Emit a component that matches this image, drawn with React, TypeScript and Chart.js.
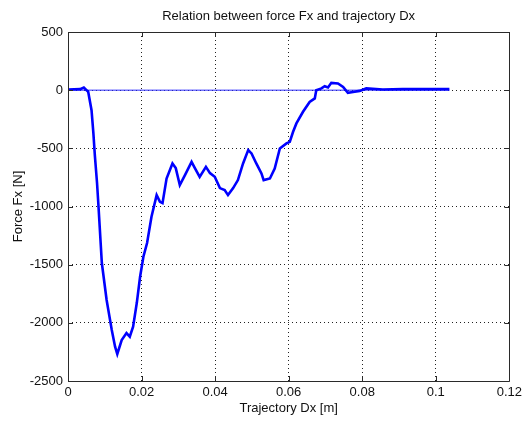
import React, { useEffect, useRef } from "react";
import { Chart, registerables } from "chart.js";

Chart.register(...registerables);

const trajectoryDx = [
  0, 0.0033, 0.0043, 0.0055, 0.0064, 0.0069, 0.0073, 0.0079, 0.0083, 0.0092,
  0.0105, 0.0119, 0.0128, 0.0134, 0.0146, 0.0159, 0.0168, 0.0177, 0.0187, 0.0196,
  0.0205, 0.0215, 0.0227, 0.0241, 0.025, 0.0257, 0.0268, 0.0284, 0.0293, 0.0304,
  0.0318, 0.0336, 0.0345, 0.0358, 0.0375, 0.0386, 0.0399, 0.0413, 0.0426, 0.0435,
  0.0449, 0.0462, 0.0476, 0.049, 0.0499, 0.0512, 0.0526, 0.0532, 0.0549, 0.0562,
  0.0576, 0.0594, 0.0603, 0.0612, 0.0621, 0.0639, 0.0657, 0.0671, 0.0675, 0.0689,
  0.0698, 0.0707, 0.0716, 0.0734, 0.0748, 0.0761, 0.0775, 0.0793, 0.0811, 0.0856,
  0.091, 0.1037,
];

const forceFx = [
  6, 9, 23, -15, -172, -369, -560, -800, -1003, -1486,
  -1804, -2062, -2205, -2268, -2148, -2088, -2119, -2033, -1830, -1604,
  -1432, -1314, -1088, -902, -960, -971, -760, -630, -670, -816,
  -730, -616, -670, -745, -659, -713, -745, -842, -859, -902,
  -842, -773, -630, -515, -544, -630, -716, -773, -759, -673,
  -501, -458, -444, -358, -286, -186, -101, -71, 0, 15,
  34, 23, 63, 58, 28, -23, -15, -6, 15, 6,
  9, 9,
];

const zeroLineDx = [0, 0.1037];
const zeroLineFx = [0, 0];

const xTicks = [0, 0.02, 0.04, 0.06, 0.08, 0.1, 0.12];
const yTicks = [-2500, -2000, -1500, -1000, -500, 0, 500];

const titleText = "Relation between force Fx and trajectory Dx";
const xTitle = "Trajectory Dx [m]";
const yTitle = "Force Fx [N]";

const FONT = "'Liberation Sans', Arial, Helvetica, sans-serif";
const FS = 13;

const boxPlugin = {
  id: "matlabBox",
  afterDraw(chart: any) {
    const { ctx, chartArea, scales } = chart;
    const { left, right, top, bottom } = chartArea;
    const a = (v: number) => Math.round(v) + 0.5;
    ctx.save();
    ctx.strokeStyle = "#2a2a2a";
    ctx.lineWidth = 1;
    ctx.setLineDash([]);
    ctx.beginPath();
    ctx.rect(a(left), a(top), Math.round(right) - Math.round(left), Math.round(bottom) - Math.round(top));
    ctx.stroke();
    const tl = 5;
    ctx.beginPath();
    for (const v of xTicks) {
      const px = a(scales.x.getPixelForValue(v));
      ctx.moveTo(px, bottom);
      ctx.lineTo(px, bottom - tl);
      ctx.moveTo(px, top);
      ctx.lineTo(px, top + tl);
    }
    for (const v of yTicks) {
      const py = a(scales.y.getPixelForValue(v));
      ctx.moveTo(left, py);
      ctx.lineTo(left + tl, py);
      ctx.moveTo(right, py);
      ctx.lineTo(right - tl, py);
    }
    ctx.stroke();
    ctx.restore();
  },
};

export default function App() {
  const ref = useRef<HTMLCanvasElement | null>(null);

  useEffect(() => {
    if (!ref.current) return;
    Chart.defaults.font.family = FONT;
    const curve = trajectoryDx.map((x, i) => ({ x, y: forceFx[i] }));
    const zero = zeroLineDx.map((x, i) => ({ x, y: zeroLineFx[i] }));
    const chart = new Chart(ref.current, {
      type: "scatter",
      data: {
        datasets: [
          {
            label: "zero",
            data: zero,
            showLine: true,
            borderColor: "#2b2bff",
            borderWidth: 1,
            pointRadius: 0,
            order: 2,
          },
          {
            label: "Fx",
            data: curve,
            showLine: true,
            borderColor: "#0000ff",
            borderWidth: 2.6,
            pointRadius: 0,
            tension: 0,
            order: 1,
          },
        ],
      },
      plugins: [boxPlugin],
      options: {
        responsive: false,
        animation: false,
        events: [],
        layout: { padding: { left: 0, right: 14, top: 0, bottom: 0 } },
        plugins: {
          legend: { display: false },
          tooltip: { enabled: false },
          title: {
            display: true,
            fullSize: false,
            text: titleText,
            color: "#111",
            font: { family: FONT, size: FS, weight: "normal" },
            padding: { top: 9, bottom: 7.4 },
          },
        },
        scales: {
          x: {
            type: "linear",
            min: 0,
            max: 0.12,
            afterBuildTicks: (s: any) => {
              s.ticks = xTicks.map((v) => ({ value: v }));
            },
            afterFit: (s: any) => {
              s.height = 42;
            },
            ticks: {
              color: "#111",
              font: { family: FONT, size: FS },
              padding: 4,
              maxRotation: 0,
              autoSkip: false,
              callback: (v: any) => String(Number(Number(v).toFixed(2))),
            },
            grid: { color: "#222", lineWidth: 1, drawTicks: false },
            border: { display: false, dash: [1, 3] },
            title: {
              display: true,
              text: xTitle,
              color: "#111",
              font: { family: FONT, size: FS },
              padding: { top: 0, bottom: 6.4 },
            },
          },
          y: {
            type: "linear",
            min: -2500,
            max: 500,
            afterBuildTicks: (s: any) => {
              s.ticks = yTicks.map((v) => ({ value: v }));
            },
            afterFit: (s: any) => {
              s.width = 68;
            },
            ticks: {
              color: "#111",
              font: { family: FONT, size: FS },
              padding: 5,
              autoSkip: false,
              callback: (v: any) => String(v),
            },
            grid: { color: "#222", lineWidth: 1, drawTicks: false },
            border: { display: false, dash: [1, 3] },
            title: {
              display: true,
              text: yTitle,
              color: "#111",
              font: { family: FONT, size: FS },
              padding: { top: 10.2, bottom: 0 },
            },
          },
        },
      },
    } as any);
    return () => chart.destroy();
  }, []);

  return (
    <div style={{ position: "fixed", left: 0, top: 0, width: 526, height: 423, background: "#fff" }}>
      <canvas ref={ref} width={526} height={423} style={{ display: "block" }} />
    </div>
  );
}
